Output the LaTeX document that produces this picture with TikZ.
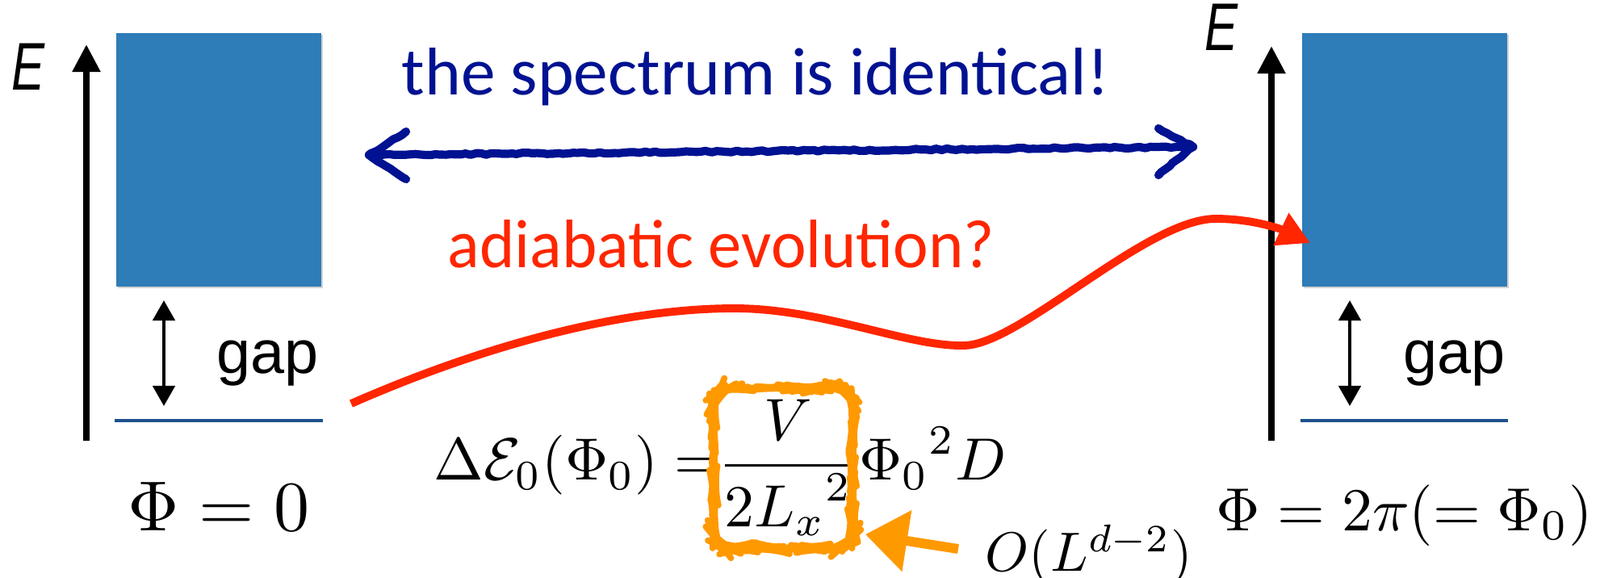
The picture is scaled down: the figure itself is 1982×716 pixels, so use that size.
\documentclass[tikz,border=0pt]{standalone}
\usepackage[no-math]{fontspec}
\newfontfamily\gill{Carlito}
\newfontfamily\helv{Liberation Sans}
\usetikzlibrary{arrows.meta,decorations.pathmorphing}
\definecolor{bandblue}{RGB}{46,124,184}
\definecolor{lineblue}{RGB}{30,80,140}
\definecolor{navy}{RGB}{0,18,145}
\definecolor{redline}{RGB}{255,38,0}
\definecolor{chalkorange}{RGB}{255,153,0}
\tikzset{
  band/.style={fill=bandblue, minimum width=2.54cm, minimum height=3.14cm, inner sep=0pt, draw=none},
  bandshadow/.style={fill=black, opacity=0.18, minimum width=2.54cm, minimum height=3.14cm, inner sep=0pt, draw=none},
  axisline/.style={line width=2.3pt, -{Triangle[length=0.34cm,width=0.33cm]}},
  gaparrow/.style={line width=1.3pt, {Triangle[length=0.25cm,width=0.27cm]}-{Triangle[length=0.25cm,width=0.27cm]}},
  groundline/.style={draw=lineblue, line width=1pt},
  elabel/.style={font=\helv\itshape\fontsize{19}{22}\selectfont, inner sep=0pt, anchor=base west},
  gaptext/.style={font=\helv\fontsize{21.5}{26}\selectfont, inner sep=0pt, anchor=base west},
  mathbig/.style={inner sep=0pt, anchor=base},
  mathmid/.style={inner sep=0pt, anchor=base west},
  chalk/.style={decorate, decoration={random steps, segment length=1.8pt, amplitude=0.3pt}, line cap=round, line join=round},
  bluearrow/.style={draw=navy, line width=2.9pt, chalk},
  redcurve/.style={draw=redline, line width=2.8pt, -{Triangle[length=0.4cm,width=0.42cm]}},
  orangebox/.style={draw=chalkorange, line width=2.2pt, rounded corners=0.25cm, minimum width=1.72cm, minimum height=1.98cm, inner sep=0pt, chalk},
  orangearrow/.style={draw=chalkorange, fill=chalkorange, line width=3.4pt, -{Triangle[length=0.52cm,width=0.74cm]}},
}
\begin{document}
\begin{tikzpicture}[x=0.01cm,y=-0.01cm]
\useasboundingbox (0,0) rectangle (1982,716);

% ---------- left panel ----------
\node[bandshadow] (shL) at (273,200) {};
\node[band] (bandL) at (271,198) {};
\coordinate (axLb) at (107,546);
\coordinate (axLt) at (107,55);
\draw[axisline] (axLb) -- (axLt);
\node[elabel] (EL) at (14,112) {\scalebox{0.92}[1.25]{E}};
\coordinate (gLb) at (203,503);
\coordinate (gLt) at (203,372);
\draw[gaparrow] (gLb) -- (gLt);
\node[gaptext] (gapL) at (268,463) {gap};
\coordinate (grL0) at (142,521);
\coordinate (grL1) at (400,521);
\draw[groundline] (grL0) -- (grL1);
\node[mathbig] (phiL) at (271,657) {\scalebox{2.5}{$\Phi=0$}};

% ---------- right panel ----------
\node[bandshadow] (shR) at (1742,200) {};
\node[band] (bandR) at (1740,198) {};
\coordinate (axRb) at (1575,546);
\coordinate (axRt) at (1575,57);
\draw[axisline] (axRb) -- (axRt);
\node[elabel] (ER) at (1492,63) {\scalebox{0.92}[1.25]{E}};
\coordinate (gRb) at (1672,503);
\coordinate (gRt) at (1672,372);
\draw[gaparrow] (gRb) -- (gRt);
\node[gaptext] (gapR) at (1738,463) {gap};
\coordinate (grR0) at (1611,521);
\coordinate (grR1) at (1868,521);
\draw[groundline] (grR0) -- (grR1);
\node[mathbig] (phiR) at (1740,657) {\scalebox{2.15}{$\Phi=2\pi(=\Phi_0)$}};

% ---------- middle ----------
\node[anchor=base west, inner sep=0pt, text=navy] (spec) at (497,118)
  {\resizebox{8.76cm}{0.58cm}{\gill\fontsize{24}{28}\selectfont the spectrum is identical!}};
\coordinate (bl) at (457,192);
\coordinate (br) at (1478,182);
\coordinate (blu) at (503,163);
\coordinate (bld) at (503,222);
\coordinate (bru) at (1435,159);
\coordinate (brd) at (1435,217);
\draw[bluearrow] (bl) -- (br);
\draw[bluearrow] (blu) -- (bl) -- (bld);
\draw[bluearrow] (bru) -- (br) -- (brd);

\node[anchor=base west, inner sep=0pt, text=redline] (adia) at (554,332)
  {\resizebox{6.77cm}{0.59cm}{\gill\fontsize{24}{28}\selectfont adiabatic evolution?}};
\coordinate (rs) at (435,500);
\coordinate (rt) at (1623,301);
\draw[redcurve] (rs) .. controls (585,434) and (760,382) .. (910,382)
  .. controls (1020,382) and (1125,430) .. (1195,428)
  .. controls (1265,426) and (1420,271) .. (1506,271)
  .. controls (1550,271) and (1585,283) .. (rt);

\node[mathmid] (formula) at (537,595)
  {\scalebox{2.1}{$\Delta\mathcal{E}_0(\Phi_0)=\mkern-6mu\displaystyle\frac{V}{2{L_x}^2}{\Phi_0}^2D$}};
\node[orangebox] (obox) at (970,580) {};
\node[mathmid] (order) at (1220,708) {\scalebox{1.95}{$O(L^{d-2})$}};
\coordinate (otail) at (1187,680);
\coordinate (otip) at (1072,662);
\draw[orangearrow] (otail) -- (otip);
\end{tikzpicture}
\end{document}
